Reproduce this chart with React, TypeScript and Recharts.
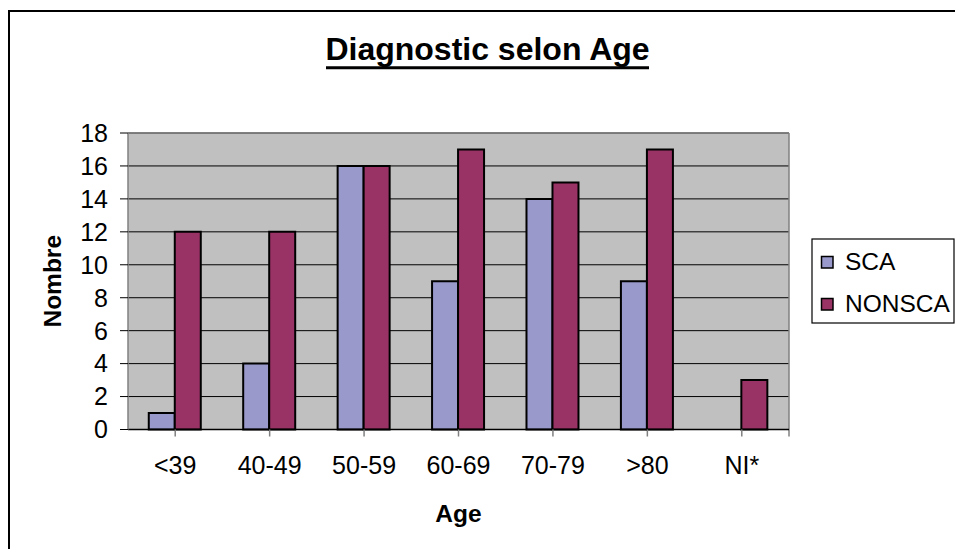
import React from 'react';
import { BarChart, Bar, XAxis, YAxis, CartesianGrid, Customized } from 'recharts';

const categories = ['<39', '40-49', '50-59', '60-69', '70-79', '>80', 'NI*'];
const scaValues: (number | null)[] = [1, 4, 16, 9, 14, 9, null];
const nonscaValues: number[] = [12, 12, 16, 17, 15, 17, 3];
const yTicks = [0, 2, 4, 6, 8, 10, 12, 14, 16, 18];
const seriesNames = ['SCA', 'NONSCA'];
const seriesColors = ['#9999CC', '#993366'];

const data = categories.map((c, i) => ({
  cat: c,
  SCA: scaValues[i],
  NONSCA: nonscaValues[i],
}));

const FONT = '"Liberation Sans", Arial, sans-serif';

const W = 955;
const H = 549;
const YW = 120;
const XH = 60;
const M = { top: 133, right: 166, bottom: 549 - 429.5 - XH, left: 8 };

const Decorations = () => {
  const plotL = M.left + YW;
  const plotR = W - M.right;
  const plotT = M.top;
  const plotB = H - M.bottom - XH;
  const midY = (plotT + plotB) / 2;
  return (
    <g>
      <rect x={9} y={11} width={980} height={600} fill="none" stroke="#000" strokeWidth={2} />
      <line x1={plotL} y1={plotT} x2={plotR} y2={plotT} stroke="#808080" strokeWidth={1.5} />
      <line x1={plotR} y1={plotT} x2={plotR} y2={plotB + 7} stroke="#808080" strokeWidth={1.5} />
      <text x={487.5} y={60} textAnchor="middle" fontFamily={FONT} fontWeight="bold" fontSize={32} fill="#000">
        Diagnostic selon Age
      </text>
      <line x1={326} y1={67.7} x2={649} y2={67.7} stroke="#000" strokeWidth={3} />
      <text
        x={61}
        y={midY}
        transform={`rotate(-90, 61, ${midY})`}
        textAnchor="middle"
        fontFamily={FONT}
        fontWeight="bold"
        fontSize={24.5}
        fill="#000"
      >
        Nombre
      </text>
      <text x={(plotL + plotR) / 2} y={521.5} textAnchor="middle" fontFamily={FONT} fontWeight="bold" fontSize={24.5} fill="#000">
        Age
      </text>
      <g>
        <rect x={812} y={239} width={142} height={84} fill="#fff" stroke="#000" strokeWidth={1.2} />
        {seriesNames.map((n, i) => (
          <g key={n}>
            <rect x={821.5} y={256.5 + i * 42} width={11.5} height={11.5} fill={seriesColors[i]} stroke="#000" strokeWidth={1.5} />
            <text x={845} y={269.5 + i * 42} fontFamily={FONT} fontSize={24.5} fill="#000">
              {n}
            </text>
          </g>
        ))}
      </g>
    </g>
  );
};

export default function App() {
  return (
    <div style={{ position: 'fixed', left: 0, top: 0, width: W, height: H, overflow: 'hidden', background: '#fff' }}>
      <BarChart width={W} height={H} data={data} margin={M} barCategoryGap="22%" barGap={0}>
        <CartesianGrid vertical={false} stroke="#000" fill="#C0C0C0" fillOpacity={1} />
        <XAxis
          dataKey="cat"
          height={XH}
          tickSize={7}
          tickMargin={20}
          axisLine={{ stroke: '#000', strokeWidth: 1.5 }}
          tickLine={{ stroke: '#808080', strokeWidth: 1.5 }}
          tick={{ fill: '#000', fontSize: 25, fontFamily: FONT }}
          interval={0}
        />
        <YAxis
          width={YW}
          domain={[0, 18]}
          ticks={yTicks}
          interval={0}
          tickSize={8}
          tickMargin={12}
          axisLine={{ stroke: '#808080', strokeWidth: 1.5 }}
          tickLine={{ stroke: '#000', strokeWidth: 1 }}
          tick={{ fill: '#000', fontSize: 25, fontFamily: FONT }}
        />
        <Bar dataKey="SCA" fill={seriesColors[0]} stroke="#000" strokeWidth={2} isAnimationActive={false} />
        <Bar dataKey="NONSCA" fill={seriesColors[1]} stroke="#000" strokeWidth={2} isAnimationActive={false} />
        <Customized component={Decorations} />
      </BarChart>
    </div>
  );
}
